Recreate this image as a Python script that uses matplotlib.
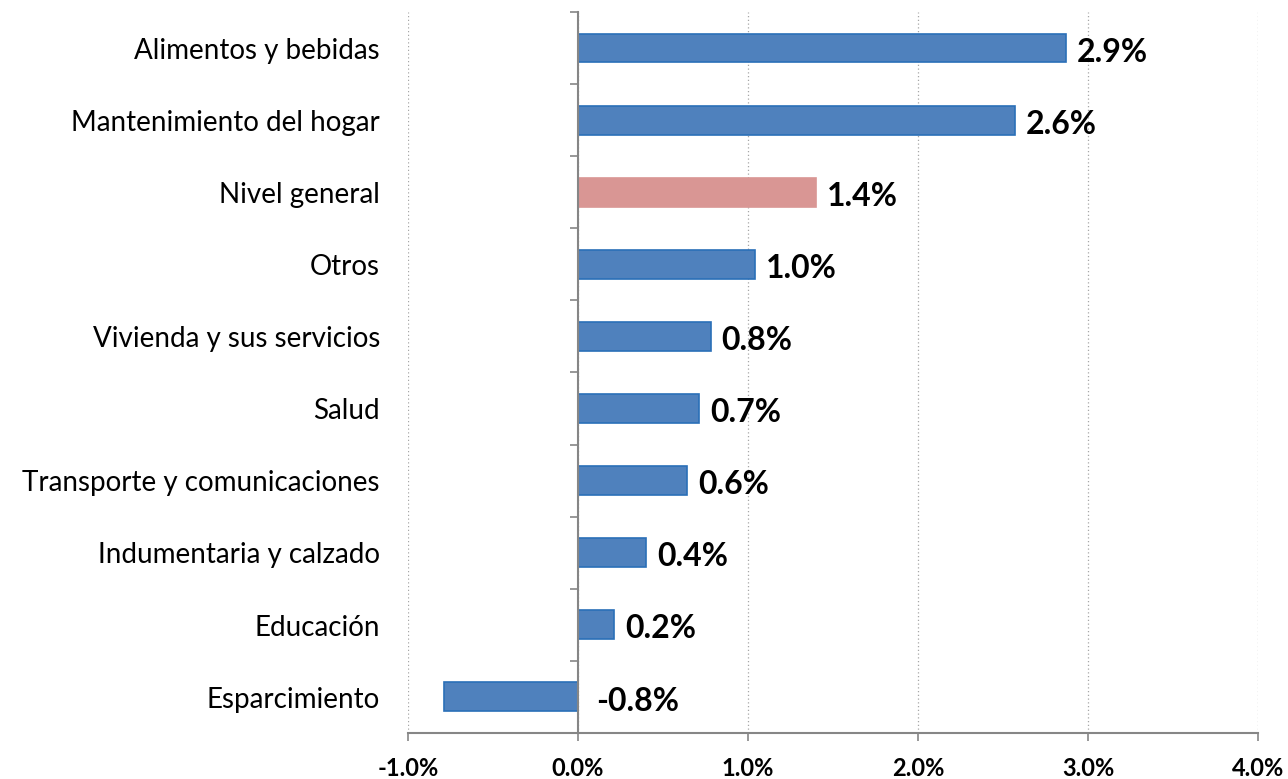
import numpy as np
import matplotlib.pyplot as plt
from matplotlib.ticker import FuncFormatter

categories = ["Alimentos y bebidas", "Mantenimiento del hogar", "Nivel general", "Otros",
              "Vivienda y sus servicios", "Salud", "Transporte y comunicaciones",
              "Indumentaria y calzado", "Educación", "Esparcimiento"]
values = [2.87, 2.57, 1.40, 1.04, 0.78, 0.71, 0.64, 0.40, 0.21, -0.79]
labels = ["2.9%", "2.6%", "1.4%", "1.0%", "0.8%", "0.7%", "0.6%", "0.4%", "0.2%", "-0.8%"]
highlight = "Nivel general"

blue = "#4f81bd"
blue_edge = "#2a6fb8"
pink = "#d99694"
grey = "#868686"

plt.rcParams['font.family'] = ['Lato', 'DejaVu Sans']

fig = plt.figure(figsize=(12.88, 7.79), dpi=100)
ax = fig.add_axes([0.3168, 0.0591, 0.6599, 0.9255])

n = len(categories)
y = np.arange(n)[::-1]
colors = [pink if c == highlight else blue for c in categories]
edges = [pink if c == highlight else blue_edge for c in categories]
ax.barh(y, values, height=0.4, color=colors, edgecolor=edges, linewidth=1.2, zorder=3)

for yi, v, lab in zip(y, values, labels):
    x0 = max(v, 0)
    off = 8 if v >= 0 else 13
    ax.annotate(lab, (x0, yi), xytext=(off, -3), textcoords='offset points',
                ha='left', va='center', fontsize=23, fontweight='bold', zorder=4)

ax.set_xlim(-1, 4)
ax.set_ylim(-0.5, n - 0.5)
ax.set_xticks(np.arange(-1, 5, 1))
ax.xaxis.set_major_formatter(FuncFormatter(lambda v, p: f"{v:.1f}%"))
for t in ax.get_xticklabels():
    t.set_fontweight('bold')
ax.tick_params(axis='x', labelsize=17, length=6, color=grey, width=1.2, pad=11)

ax.xaxis.grid(True, linestyle=(0, (1, 2)), color='#a6a6a6', linewidth=0.9, zorder=0)

# category axis drawn at zero, ticks between categories
ax.spines['left'].set_position(('data', 0))
ax.spines['left'].set_color(grey)
ax.spines['left'].set_linewidth(1.5)
ax.spines['left'].set_zorder(5)
ax.spines['bottom'].set_color(grey)
ax.spines['bottom'].set_linewidth(1.5)
ax.spines['top'].set_visible(False)
ax.spines['right'].set_visible(False)
ax.set_yticks([])
ax.set_yticks(np.arange(-0.5, n, 1), minor=True)
ax.tick_params(axis='y', which='minor', length=6, color=grey, width=1.2, labelleft=False)

for yi, c in zip(y, categories):
    ax.annotate(c, (-0.033, yi), xycoords=ax.get_yaxis_transform(), xytext=(0, -2),
                textcoords='offset points', ha='right', va='center', fontsize=20)

fig.savefig("out.png", dpi=100)
